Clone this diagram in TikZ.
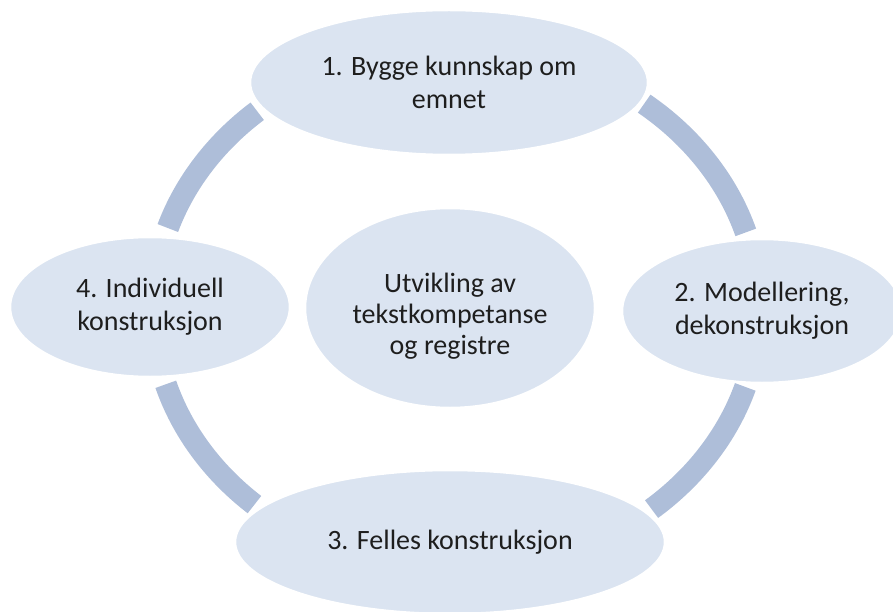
\documentclass[tikz,border=0pt]{standalone}
\usepackage{fontspec}
\setmainfont{Carlito}
\usetikzlibrary{shapes.geometric}
\definecolor{fillblue}{RGB}{219,228,241}
\definecolor{ringblue}{RGB}{174,190,217}
\definecolor{txt}{RGB}{30,30,30}
\begin{document}
\begin{tikzpicture}[x=1pt,y=1pt,
  blob/.style={ellipse, fill=fillblue, draw=white, line width=2.5pt, inner sep=0pt, align=center, text=txt, font=\fontsize{28}{33}\selectfont},
  ring/.style={draw=ringblue, line width=22pt, line cap=butt}]
\useasboundingbox (0,0) rectangle (893,-612);
\clip (0,0) rectangle (893,-612);
\coordinate (rc) at (456,-309);
% ring arcs
\draw[ring] (rc) ++(131:303 and 262) arc[start angle=131, end angle=162, x radius=303, y radius=262];
\draw[ring] (rc) ++(196.7:303 and 262) arc[start angle=196.7, end angle=228.3, x radius=303, y radius=262];
\draw[ring] (rc) ++(-49.8:303 and 262) arc[start angle=-49.8, end angle=-17.3, x radius=303, y radius=262];
\draw[ring] (rc) ++(17:303 and 262) arc[start angle=17, end angle=51.6, x radius=303, y radius=262];
% ellipses
\node[blob, minimum width=398pt, minimum height=145pt] (top) at (449,-82.5) {1. Bygge kunnskap om\\emnet};
\node[blob, minimum width=280pt, minimum height=144pt] (right) at (762,-311) {2. Modellering,\\dekonstruksjon};
\node[blob, minimum width=430pt, minimum height=144pt] (bottom) at (450,-542) {3. Felles konstruksjon};
\node[blob, minimum width=280pt, minimum height=140pt] (left) at (150,-307) {4. Individuell\\konstruksjon};
\node[blob, minimum width=290pt, minimum height=200pt] (center) at (450,-308) {};
\node[align=center, text=txt, font=\fontsize{28}{31}\selectfont, inner sep=0pt] (centertext) at (450,-316) {Utvikling av\\tekstkompetanse\\og registre};
\end{tikzpicture}
\end{document}
